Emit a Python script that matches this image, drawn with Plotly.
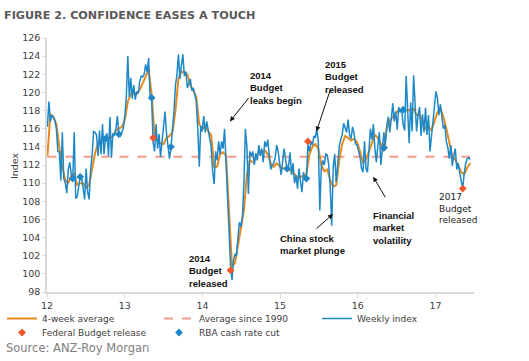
import pandas as pd
import plotly.graph_objects as go

# ---------------- data ----------------
weekly_index = [
    116.2, 119.0, 116.8, 117.5, 117.3, 116.9, 116.0, 113.5, 113.4, 110.3,
    115.6, 110.5, 110.0, 108.9, 111.5, 112.3, 111.0, 110.3, 115.6, 108.3,
    108.5, 109.8, 110.7, 110.6, 109.5, 108.2, 111.6, 109.0, 108.2, 111.5,
    113.0, 115.7, 115.6, 115.3, 113.0, 115.8, 113.2, 116.5, 113.2, 114.9,
    115.5, 113.0, 117.3, 112.8, 115.5, 115.2, 116.0, 117.4, 115.4, 115.2,
    115.6, 116.1, 117.4, 119.5, 124.0, 119.5, 121.6, 119.3, 120.8, 119.2,
    120.1, 119.9, 121.2, 121.8, 121.7, 122.0, 123.1, 122.2, 123.8, 119.5,
    119.4, 114.5, 113.5, 116.5, 113.8, 115.4, 112.9, 114.8, 116.8, 117.9,
    115.5, 114.2, 112.7, 113.9, 115.8, 117.9, 120.8, 121.9, 124.2, 121.5,
    123.0, 124.2, 121.8, 122.3, 120.5, 121.0, 121.5, 120.2, 120.5, 119.8,
    119.0, 116.0, 111.8, 116.3, 115.7, 117.4, 115.6, 116.8, 116.0, 115.0,
    114.0, 111.3, 109.9, 113.5, 112.5, 114.6, 113.2, 114.6, 113.8, 116.0,
    112.0, 108.5, 104.5, 101.0, 99.3, 101.5, 102.2, 102.0, 104.0, 105.7,
    105.2, 106.3, 110.0, 116.0, 114.0, 108.8, 113.5, 113.0, 113.5, 112.0,
    113.3, 112.5, 114.2, 113.0, 113.8, 112.3, 114.6, 114.0, 114.8, 112.8,
    111.5, 112.0, 112.2, 112.8, 114.2, 113.5, 112.0, 110.9, 112.4, 113.8,
    112.6, 111.6, 111.9, 113.4, 110.9, 112.2, 110.0, 110.9, 109.4, 111.6,
    110.2, 109.0, 111.2, 110.5, 110.5, 114.2, 113.5, 114.6, 114.2, 115.2,
    115.0, 116.0, 114.5, 107.0, 111.8, 112.5, 112.0, 113.2, 113.1, 112.0,
    109.5, 105.3, 111.8, 113.2, 110.1, 112.6, 114.0, 114.8, 115.3, 116.6,
    116.0, 115.6, 117.0, 115.3, 114.9, 116.2, 115.5, 114.3, 114.2, 113.4,
    112.9, 111.6, 111.2, 114.6, 111.6, 111.2, 113.4, 116.0, 114.8, 116.5,
    113.8, 112.3, 114.2, 115.6, 112.0, 113.9, 115.6, 114.2, 116.4, 117.3,
    115.6, 117.1, 118.8, 116.8, 117.9, 115.9, 118.4, 117.8, 118.1, 116.4,
    115.8, 121.8, 118.0, 114.4, 118.9, 115.7, 121.9, 117.9, 115.7, 117.5,
    118.4, 115.2, 117.6, 115.6, 118.3, 115.3, 117.5, 113.5, 115.3, 117.3,
    118.9, 120.1, 119.4, 117.5, 118.7, 117.2, 116.0, 116.4, 114.6, 113.9,
    112.7, 114.2, 111.9, 113.0, 113.8, 111.5, 112.2, 111.1, 110.4, 109.4,
    111.1, 112.2, 112.7, 112.8, 112.6,
]

# 4-week average, read every second week
four_week_avg = [
    113.0, 117.6, 117.3, 116.5, 114.0, 111.8, 110.3, 110.0, 110.8, 111.0,
    109.8, 110.0, 110.0, 109.5, 109.8, 111.5, 113.3, 114.4, 114.5, 115.0,
    115.0, 115.0, 115.2, 115.8, 116.0, 116.2, 117.0, 119.0, 119.8, 120.0,
    119.8, 120.3, 121.0, 121.8, 122.5, 119.8, 115.2, 114.6, 114.4, 114.3,
    115.0, 115.2, 115.6, 118.0, 121.5, 122.3, 122.2, 122.0, 120.8, 120.2,
    119.5, 116.5, 116.0, 116.2, 115.8, 115.3, 111.8, 111.8, 113.2, 113.4,
    113.0, 107.0, 100.8, 101.2, 103.0, 105.0, 107.0, 111.0, 112.5, 112.3,
    112.7, 113.4, 113.5, 113.6, 113.2, 112.2, 111.8, 112.2, 111.9, 111.6,
    111.7, 111.5, 111.3, 111.0, 110.6, 110.7, 110.8, 111.0, 113.2, 114.0,
    114.3, 113.8, 112.0, 111.3, 111.5, 110.3, 109.6, 109.8, 112.5, 114.3,
    115.2, 115.0, 114.7, 114.9, 114.5, 113.5, 112.2, 112.6, 113.5, 114.3,
    115.3, 115.0, 114.3, 114.0, 116.0, 116.9, 117.3, 117.8, 118.1, 118.1,
    118.0, 118.0, 118.1, 118.2, 117.5, 117.5, 116.8, 116.0, 116.2, 115.8,
    116.8, 117.8, 118.3, 117.3, 116.0, 114.5, 113.0, 112.6, 111.8, 111.2,
    111.0, 111.7, 112.2,
]

average_since_1990 = 112.9

budget_dates = ["2013-05-14", "2014-05-13", "2015-05-12", "2016-05-03", "2017-05-09"]
budget_values = [115.0, 100.4, 114.6, 113.9, 109.4]

rba_dates = ["2012-05-01", "2012-06-05", "2012-10-02", "2012-12-04", "2013-05-07",
             "2013-08-06", "2015-02-03", "2015-05-05", "2016-05-03", "2016-08-02"]
rba_values = [110.5, 110.7, 114.9, 115.4, 119.4, 114.0, 111.6, 110.5, 113.9, 118.1]

y_ticks = list(range(98, 127, 2))

weekly_dates = pd.date_range("2012-01-03", periods=len(weekly_index), freq="7D")
avg_dates = pd.date_range("2012-01-03", periods=len(four_week_avg), freq="14D")

BLUE = "#1E88C7"
ORANGE = "#E8891C"
RED = "#F2562A"
TXT = "#404040"
FONT = "DejaVu Sans"
W, H = 529, 361

fig = go.Figure()

fig.add_trace(go.Scatter(
    x=[weekly_dates[0], weekly_dates[-1]], y=[average_since_1990] * 2,
    mode="lines", name="Average since 1990", legend="legend2",
    line=dict(color="#F59C8A", width=2, dash="dash")))
fig.add_trace(go.Scatter(
    x=avg_dates, y=four_week_avg, mode="lines", name="4-week average",
    legend="legend", line=dict(color=ORANGE, width=2)))
fig.add_trace(go.Scatter(
    x=weekly_dates, y=weekly_index, mode="lines", name="Weekly index",
    legend="legend3", line=dict(color=BLUE, width=1.5)))
fig.add_trace(go.Scatter(
    x=budget_dates, y=budget_values, mode="markers", name="Federal Budget release",
    legend="legend4", marker=dict(color=RED, size=6, symbol="diamond")))
fig.add_trace(go.Scatter(
    x=rba_dates, y=rba_values, mode="markers", name="RBA cash rate cut",
    legend="legend5", marker=dict(color=BLUE, size=6, symbol="diamond")))

bold = dict(family="Liberation Sans", size=9.5, color="#111111")
notes = [
    ("2014-08-02", 122.7, "<b>2014<br>Budget<br>leaks begin</b>", bold),
    ("2015-07-20", 123.9, "<b>2015<br>Budget<br>released</b>", bold),
    ("2013-10-20", 102.5, "<b>2014<br>Budget<br>released</b>", bold),
    ("2014-12-21", 104.7, "<b>China stock<br>market plunge</b>", bold),
    ("2016-03-02", 107.3, "<b>Financial<br>market<br>volatility</b>", bold),
    ("2017-01-07", 109.2, "2017<br>Budget<br>released", dict(family=FONT, size=9, color="#222222")),
]
for x, y, t, f in notes:
    fig.add_annotation(x=x, y=y, text=t, showarrow=False, xanchor="left",
                       yanchor="top", align="left", font=f)

arrows = [
    ("2014-05-10", 116.8, 20, -25),
    ("2015-06-21", 115.7, 14, -42),
    ("2015-09-07", 106.6, -18, 16),
    ("2016-03-14", 110.7, 13, 22),
]
for x, y, ax, ay in arrows:
    fig.add_annotation(x=x, y=y, text="", showarrow=True, ax=ax, ay=ay,
                       arrowhead=2, arrowsize=1, arrowwidth=1, arrowcolor="#111111")

fig.add_annotation(xref="paper", yref="paper", x=-0.0773, y=0.5, text="Index",
                   textangle=-90, showarrow=False, xanchor="center", yanchor="middle",
                   font=dict(family=FONT, size=9.5, color=TXT))
fig.add_annotation(xref="paper", yref="paper", x=-0.1007, y=-0.2207,
                   text="Source: ANZ-Roy Morgan", showarrow=False, xanchor="left",
                   yanchor="middle", font=dict(family=FONT, size=11.5, color="#808080"))


def legend_box(px, py):
    return dict(orientation="h", xref="container", yref="container",
                x=px / W, y=1 - py / H, xanchor="left", yanchor="top",
                font=dict(family=FONT, size=9, color=TXT),
                bgcolor="rgba(0,0,0,0)")


fig.update_layout(
    width=W, height=H,
    margin=dict(l=47, r=55, t=38, b=69, autoexpand=False),
    paper_bgcolor="white", plot_bgcolor="white",
    font=dict(family=FONT, size=9.5, color=TXT),
    title=dict(text="<b>FIGURE 2. CONFIDENCE EASES A TOUCH</b>", xref="container",
               x=4 / W, xanchor="left", yref="container", y=1 - 15.5 / H,
               yanchor="middle", font=dict(family=FONT, size=11.2, color="#595959")),
    showlegend=True,
    legend=legend_box(2, 304),
    legend2=legend_box(159, 304),
    legend3=legend_box(317, 304),
    legend4=legend_box(2, 318),
    legend5=legend_box(159, 318),
)
fig.update_xaxes(type="date", range=["2012-01-01", "2017-07-01"],
                 dtick="M12", tick0="2012-01-01", tickformat="%y",
                 showgrid=False, zeroline=False, showline=True, linecolor="#D9D9D9",
                 linewidth=1.5, ticks="outside", ticklen=4, tickcolor="#D9D9D9",
                 tickfont=dict(family=FONT, size=9.5, color=TXT))
fig.update_yaxes(range=[98, 126], tickvals=y_ticks,
                 showgrid=False, zeroline=False, showline=True, linecolor="#D9D9D9",
                 linewidth=1.5, ticks="outside", ticklen=3, tickcolor="#D9D9D9",
                 tickfont=dict(family=FONT, size=9.5, color=TXT))

fig.write_html("out.html", config={"displayModeBar": False},
               post_script="document.body.style.margin='0px';")
